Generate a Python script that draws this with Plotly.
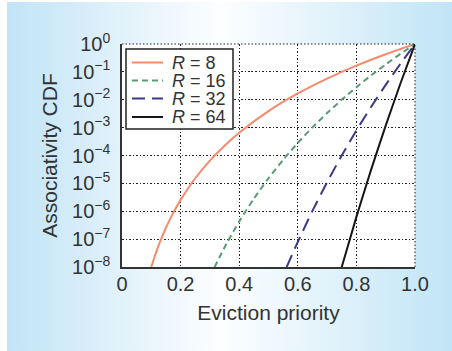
import base64
import plotly.graph_objects as go

# ---- data ----
x_r8 = [0.1, 0.11, 0.12, 0.13, 0.15, 0.17, 0.2, 0.25, 0.3, 0.35, 0.4, 0.5, 0.6, 0.7, 0.8, 0.9, 1.0]
y_r8 = [1e-8, 2.14e-8, 4.3e-8, 8.16e-8, 2.56e-7, 6.98e-7, 2.56e-6, 1.53e-5, 6.56e-5, 2.25e-4,
        6.55e-4, 3.91e-3, 1.68e-2, 5.76e-2, 0.168, 0.43, 1.0]
x_r16 = [0.316, 0.32, 0.34, 0.36, 0.4, 0.45, 0.5, 0.55, 0.6, 0.65, 0.7, 0.75, 0.8, 0.85, 0.9, 0.95, 1.0]
y_r16 = [1e-8, 1.21e-8, 3.18e-8, 7.96e-8, 4.29e-7, 2.82e-6, 1.53e-5, 7.0e-5, 2.82e-4, 1.02e-3,
         3.32e-3, 1.0e-2, 2.81e-2, 7.43e-2, 0.185, 0.44, 1.0]
x_r32 = [0.562, 0.58, 0.6, 0.65, 0.7, 0.75, 0.8, 0.85, 0.9, 0.95, 1.0]
y_r32 = [1e-8, 2.69e-8, 7.95e-8, 1.03e-6, 1.1e-5, 1.0e-4, 7.92e-4, 5.52e-3, 3.43e-2, 0.194, 1.0]
x_r64 = [0.75, 0.8, 0.85, 0.9, 0.95, 1.0]
y_r64 = [1e-8, 6.28e-7, 3.05e-5, 1.18e-3, 3.75e-2, 1.0]

series_names = ["<i>R</i> = 8", "<i>R</i> = 16", "<i>R</i> = 32", "<i>R</i> = 64"]
series_colors = ["#f68a6c", "#5a9b73", "#3a3a86", "#161616"]
series_dash = ["solid", "6px,4px", "13px,7px", "solid"]

x_tickvals = [0, 0.2, 0.4, 0.6, 0.8, 1.0]
x_ticktext = ["0", "0.2", "0.4", "0.6", "0.8", "1.0"]
y_tickvals = [1, 1e-1, 1e-2, 1e-3, 1e-4, 1e-5, 1e-6, 1e-7, 1e-8]
y_ticktext = ["10<sup>0</sup>", "10<sup>\u22121</sup>", "10<sup>\u22122</sup>", "10<sup>\u22123</sup>",
              "10<sup>\u22124</sup>", "10<sup>\u22125</sup>", "10<sup>\u22126</sup>",
              "10<sup>\u22127</sup>", "10<sup>\u22128</sup>"]

W, H = 452, 351
L, R, T, B = 122, 37, 44, 84
PW, PH = W - L - R, H - T - B


def px_x(p):
    return (p - L) / PW


def px_y(p):
    return (H - B - p) / PH


xs = [x_r8, x_r16, x_r32, x_r64]
ys = [y_r8, y_r16, y_r32, y_r64]

fig = go.Figure()
for xv, yv, nm, col, dsh in zip(xs, ys, series_names, series_colors, series_dash):
    fig.add_trace(go.Scatter(x=xv, y=yv, mode="lines", name=nm,
                             line=dict(color=col, width=2, dash=dsh, shape="spline", smoothing=0.6),
                             showlegend=False))

# gradient background (svg data uri)
svg = ('<svg xmlns="http://www.w3.org/2000/svg" width="445" height="349" preserveAspectRatio="none">'
       '<defs><linearGradient id="g" x1="0" y1="0" x2="1" y2="0">'
       '<stop offset="0" stop-color="#c1e4f6"/>'
       '<stop offset="0.48" stop-color="#fdfeff"/>'
       '<stop offset="1" stop-color="#c1e5f6"/>'
       '</linearGradient></defs>'
       '<rect width="445" height="349" fill="url(#g)"/></svg>')
uri = "data:image/svg+xml;base64," + base64.b64encode(svg.encode()).decode()
fig.add_layout_image(dict(source=uri, xref="paper", yref="paper",
                          x=px_x(7), y=px_y(2), sizex=px_x(W) - px_x(7), sizey=px_y(2) - px_y(H),
                          xanchor="left", yanchor="top", sizing="stretch", layer="below"))

GRID_DASH = "1.5px,2px"
shapes = []
# white plot area over the gradient
shapes.append(dict(type="rect", xref="paper", yref="paper", x0=0, x1=1, y0=0, y1=1,
                   fillcolor="white", line=dict(width=0), layer="below"))
# top and right dotted borders
shapes.append(dict(type="line", xref="paper", yref="paper", x0=0, x1=1, y0=1, y1=1,
                   line=dict(color="#222", width=1, dash=GRID_DASH)))
shapes.append(dict(type="line", xref="paper", yref="paper", x0=1, x1=1, y0=0, y1=1,
                   line=dict(color="#222", width=1, dash=GRID_DASH)))
# custom legend
shapes.append(dict(type="rect", xref="paper", yref="paper",
                   x0=px_x(126), x1=px_x(233), y0=px_y(129), y1=px_y(49),
                   fillcolor="white", line=dict(color="#222", width=1.5)))
row_y = [62.5, 80.5, 98.5, 117]
annotations = []
for ry, nm, col, dsh in zip(row_y, series_names, series_colors, series_dash):
    shapes.append(dict(type="line", xref="paper", yref="paper",
                       x0=px_x(132), x1=px_x(163), y0=px_y(ry), y1=px_y(ry),
                       line=dict(color=col, width=2, dash=dsh)))
    annotations.append(dict(xref="paper", yref="paper", x=px_x(171), y=px_y(ry),
                            text=nm, showarrow=False, xanchor="left", yanchor="middle",
                            height=17, borderpad=0,
                            font=dict(size=18, color="#333", family="Liberation Sans, Arial, sans-serif")))

fig.update_layout(
    width=W, height=H,
    margin=dict(l=L, r=R, t=T, b=B),
    paper_bgcolor="white",
    plot_bgcolor="rgba(0,0,0,0)",
    font=dict(family="Liberation Sans, Arial, sans-serif", size=20, color="#333"),
    shapes=shapes,
    annotations=annotations,
    showlegend=False,
    xaxis=dict(range=[0, 1], tickvals=x_tickvals, ticktext=x_ticktext,
               showgrid=True, gridcolor="#222", griddash=GRID_DASH, gridwidth=1,
               showline=True, linecolor="#333", linewidth=1.5, ticks="", zeroline=False,
               ticklabelstandoff=-2,
               title=dict(text="Eviction priority", font=dict(size=21), standoff=12)),
    yaxis=dict(type="log", range=[-8, 0], tickvals=y_tickvals, ticktext=y_ticktext,
               showgrid=True, gridcolor="#222", griddash=GRID_DASH, gridwidth=1,
               showline=True, linecolor="#333", linewidth=1.5, ticks="", zeroline=False,
               ticklabelstandoff=6,
               title=dict(text="Associativity CDF", font=dict(size=21), standoff=9)),
)

fig.write_html("out.html", config={"displayModeBar": False},
               post_script="document.body.style.margin='0';document.body.style.overflow='hidden';")
